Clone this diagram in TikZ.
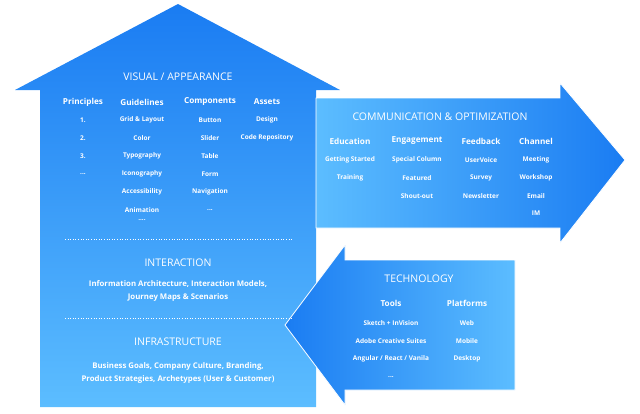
\documentclass[tikz,border=0pt]{standalone}
\usepackage{fontspec}
\setmainfont{Open Sans}
\definecolor{bdark}{HTML}{1A7CF2}
\definecolor{blight}{HTML}{5CBDFF}
\begin{document}
\begin{tikzpicture}[x=1pt,y=-1pt,
  hd/.style={text=white,font=\fontsize{10.5}{11}\selectfont},
  ch/.style={text=white,font=\bfseries\fontsize{8.2}{9}\selectfont},
  it/.style={text=white,font=\bfseries\fontsize{6.5}{7}\selectfont},
  tx/.style={text=white,font=\bfseries\fontsize{7.8}{13}\selectfont,align=center},
  dl/.style={white,dotted,line width=0.6pt}]
\useasboundingbox (0,0) rectangle (640,413);
\shade[top color=bdark,bottom color=blight] (15,90) -- (178,4) -- (340,90) -- (316,90) -- (316,407) -- (40,407) -- (40,90) -- cycle;
\shade[left color=blight,right color=bdark,draw=white,line width=0.8pt] (316,98) -- (560,98) -- (560,83) -- (625,160) -- (560,243) -- (560,228) -- (316,228) -- cycle;
\shade[left color=bdark,right color=blight,draw=white,line width=0.8pt] (345,260) -- (515,260) -- (515,390) -- (345,390) -- (345,405) -- (285,325) -- (345,245) -- cycle;
\draw[dl] (65,239) -- (293,239);
\draw[dl] (65,318) -- (293,318);
\node[hd] (va) at (178,77) {VISUAL / APPEARANCE};
\node[ch] (p) at (83,102) {Principles};
\node[ch] (g) at (142,102) {Guidelines};
\node[ch] (c) at (210,102) {Components};
\node[ch] (a) at (267,102) {Assets};
\node[it] (p1) at (83,120) {1.};
\node[it] (p2) at (83,138) {2.};
\node[it] (p3) at (83,156) {3.};
\node[it] (p4) at (83,174) {...};
\node[it] (g1) at (142,120) {Grid \& Layout};
\node[it] (g2) at (142,138) {Color};
\node[it] (g3) at (142,156) {Typography};
\node[it] (g4) at (142,174) {Iconography};
\node[it] (g5) at (142,192) {Accessibility};
\node[it] (g6) at (142,210) {Animation};
\node[it] (g7) at (142,220) {....};
\node[it] (c1) at (210,120) {Button};
\node[it] (c2) at (210,138) {Slider};
\node[it] (c3) at (210,156) {Table};
\node[it] (c4) at (210,174) {Form};
\node[it] (c5) at (210,192) {Navigation};
\node[it] (c6) at (210,210) {...};
\node[it] (a1) at (267,120) {Design};
\node[it] (a2) at (267,138) {Code Repository};
\node[hd] (in) at (178,263) {INTERACTION};
\node[tx] (int) at (178,290.5) {Information Architecture, Interaction Models,\\Journey Maps \& Scenarios};
\node[hd] (inf) at (178,342) {INFRASTRUCTURE};
\node[tx] (inft) at (178,372.5) {Business Goals, Company Culture, Branding,\\Product Strategies, Archetypes (User \& Customer)};
\node[hd] (co) at (440,117) {COMMUNICATION \& OPTIMIZATION};
\node[ch] (e) at (350,141) {Education};
\node[ch] (en) at (417,141) {Engagement};
\node[ch] (f) at (481,141) {Feedback};
\node[ch] (ch) at (536,141) {Channel};
\node[it] (e1) at (350,160) {Getting Started};
\node[it] (e2) at (350,178) {Training};
\node[it] (en1) at (417,160) {Special Column};
\node[it] (en2) at (417,178) {Featured};
\node[it] (en3) at (417,196) {Shout-out};
\node[it] (f1) at (481,160) {UserVoice};
\node[it] (f2) at (481,178) {Survey};
\node[it] (f3) at (481,196) {Newsletter};
\node[it] (ch1) at (536,160) {Meeting};
\node[it] (ch2) at (536,178) {Workshop};
\node[it] (ch3) at (536,196) {Email};
\node[it] (ch4) at (536,213) {IM};
\node[hd] (te) at (419,279) {TECHNOLOGY};
\node[ch] (to) at (391,303) {Tools};
\node[ch] (pl) at (467,303) {Platforms};
\node[it] (to1) at (391,323) {Sketch + InVision};
\node[it] (to2) at (391,341) {Adobe Creative Suites};
\node[it] (to3) at (391,359) {Angular / React / Vanila};
\node[it] (to4) at (391,377) {...};
\node[it] (pl1) at (467,323) {Web};
\node[it] (pl2) at (467,341) {Mobile};
\node[it] (pl3) at (467,359) {Desktop};
\end{tikzpicture}
\end{document}
